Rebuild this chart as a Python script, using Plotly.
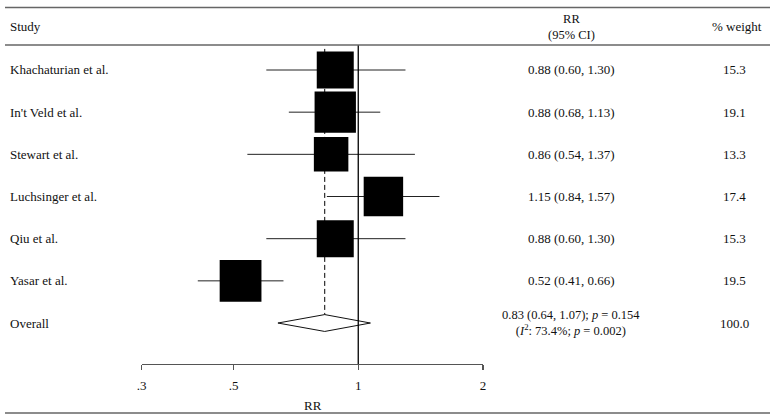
import plotly.graph_objects as go
import math

studies = ["Khachaturian et al.", "In't Veld et al.", "Stewart et al.",
           "Luchsinger et al.", "Qiu et al.", "Yasar et al."]
rr = [0.88, 0.88, 0.86, 1.15, 0.88, 0.52]
lo = [0.60, 0.68, 0.54, 0.84, 0.60, 0.41]
hi = [1.30, 1.13, 1.37, 1.57, 1.30, 0.66]
weight = [15.3, 19.1, 13.3, 17.4, 15.3, 19.5]
overall_rr, overall_lo, overall_hi = 0.83, 0.64, 1.07
overall_weight = 100.0
overall_p = "0.154"
i2 = "73.4%"
i2_p = "0.002"
tick_vals = [0.3, 0.5, 1, 2]
tick_text = [".3", ".5", "1", "2"]

W, H = 773, 420
FONT = "Liberation Serif"
FS = 13
TXT = "#111"

def py(p):
    return 1 - p / H

def px(p):
    return p / W

rows = list(range(len(studies)))
overall_row = len(studies)

fig = go.Figure()

# CI lines
cx, cy = [], []
for r, a, b in zip(rows, lo, hi):
    cx += [a, b, None]
    cy += [r, r, None]
fig.add_trace(go.Scatter(x=cx, y=cy, mode="lines",
                         line=dict(color="#222", width=1), hoverinfo="skip"))

# squares
base = 37.0
sizes = [base * math.sqrt(w / 15.3) for w in weight]
fig.add_trace(go.Scatter(x=rr, y=rows, mode="markers",
                         marker=dict(symbol="square", size=sizes, color="black",
                                     opacity=1, line=dict(width=0)),
                         hoverinfo="skip"))

# diamond
dh = 0.2
fig.add_trace(go.Scatter(
    x=[overall_lo, overall_rr, overall_hi, overall_rr, overall_lo],
    y=[overall_row, overall_row - dh, overall_row, overall_row + dh, overall_row],
    mode="lines", fill="toself", fillcolor="white",
    line=dict(color="#111", width=1), hoverinfo="skip"))

# reference lines
fig.add_shape(type="line", x0=1, x1=1, xref="x", y0=0, y1=1, yref="y domain",
              line=dict(color="black", width=1.3))
fig.add_shape(type="line", x0=overall_rr, x1=overall_rr, xref="x",
              y0=-0.5, y1=overall_row - dh, yref="y",
              line=dict(color="black", width=1, dash="5px,3px"))

# horizontal rules
for p in [7.5, 45, 413]:
    fig.add_shape(type="line", x0=0, x1=1, xref="paper", y0=py(p), y1=py(p),
                  yref="paper", line=dict(color="#666", width=1.3))

ann = []
def A(text, x, y, xanchor="left", yref="paper", size=FS, **kw):
    ann.append(dict(text=text, x=x, y=y, xref="paper", yref=yref,
                    xanchor=xanchor, yanchor="middle", showarrow=False,
                    font=dict(family=FONT, size=size, color=TXT), **kw))

RRX = 572
WX = 737
LX = 3
# headers
A("Study", px(LX), py(26))
A("RR<br>(95% CI)", px(RRX), py(26.5), xanchor="center", size=12.5)
A("% weight", px(740), py(26), xanchor="center")

for r, s, e, a, b, w in zip(rows, studies, rr, lo, hi, weight):
    A(s, px(LX), r, yref="y")
    A(f"{e:.2f} ({a:.2f}, {b:.2f})", px(RRX), r, xanchor="center", yref="y")
    A(f"{w:.1f}", px(WX), r, xanchor="center", yref="y")

A("Overall", px(LX), overall_row, yref="y")
A(f"{overall_rr:.2f} ({overall_lo:.2f}, {overall_hi:.2f}); <i>p</i> = {overall_p}<br>"
  f"(<i>I</i><sup>2</sup>: {i2}; <i>p</i> = {i2_p})",
  px(RRX), py(322.5), xanchor="center", size=12.5)
A(f"{overall_weight:.1f}", px(WX), overall_row, xanchor="center", yref="y")

# axis title
A("RR", px(311), py(405), xanchor="center")

row_px0, row_dp = 70, 42.17
top_px, bot_px = 45, 364
fig.update_layout(
    width=W, height=H, margin=dict(l=0, r=0, t=0, b=0),
    paper_bgcolor="white", plot_bgcolor="white", showlegend=False,
    annotations=ann,
    xaxis=dict(type="log", domain=[px(138), px(483)],
               range=[math.log10(0.3), math.log10(2)],
               tickvals=tick_vals, ticktext=tick_text,
               ticks="outside", ticklen=5, tickcolor="#555", tickwidth=1.3,
               showline=True, linecolor="#555", linewidth=1.3,
               showgrid=False, zeroline=False, ticklabelstandoff=4,
               tickfont=dict(family=FONT, size=FS, color=TXT)),
    yaxis=dict(domain=[py(bot_px), py(top_px)],
               range=[(bot_px - row_px0) / row_dp, (top_px - row_px0) / row_dp],
               visible=False, showgrid=False, zeroline=False),
)

fig.write_html("out.html", config={"displayModeBar": False, "staticPlot": True},
               post_script="document.body.style.margin='0';document.body.style.overflow='hidden';")
